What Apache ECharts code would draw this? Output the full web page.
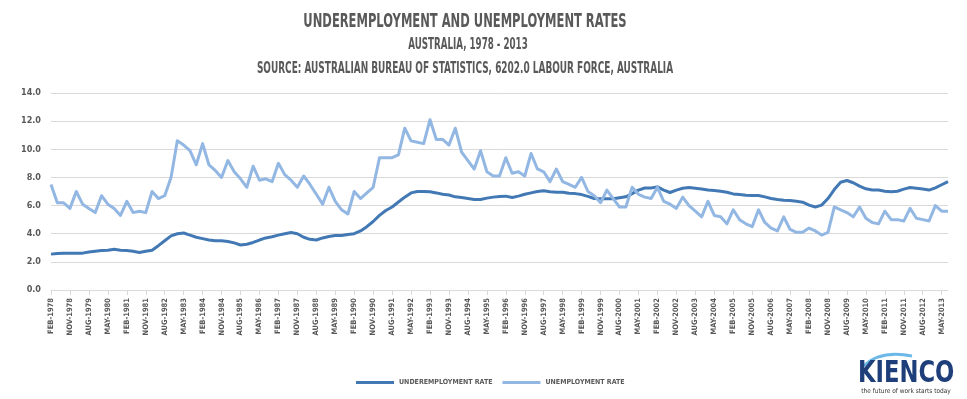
<!DOCTYPE html>
<html>
<head>
<meta charset="utf-8">
<script src="https://cdn.jsdelivr.net/npm/echarts@6/dist/echarts.min.js"></script>
<style>html,body{margin:0;padding:0;background:#fff}#c{width:967px;height:399px}</style>
</head>
<body>
<div id="c"></div>
<script>
var startYear = 1978;
var quarterMonths = ['FEB', 'MAY', 'AUG', 'NOV'];
var pointCount = 143;
var categories = [];
for (var k = 0; k < pointCount; k++) {
  categories.push(quarterMonths[k % 4] + '-' + (startYear + Math.floor(k / 4)));
}

var underemploymentRate = [
  2.55, 2.6, 2.62, 2.62, 2.62, 2.62, 2.7, 2.75, 2.8, 2.83,
  2.9, 2.83, 2.8, 2.75, 2.67, 2.75, 2.83, 3.15, 3.5, 3.85,
  4.0, 4.05, 3.9, 3.75, 3.65, 3.55, 3.5, 3.5, 3.45, 3.35,
  3.2, 3.25, 3.38, 3.55, 3.7, 3.78, 3.9, 4.0, 4.08, 4.0,
  3.75, 3.6, 3.55, 3.7, 3.8, 3.87, 3.87, 3.95, 4.0, 4.2,
  4.5, 4.87, 5.3, 5.65, 5.9, 6.25, 6.6, 6.9, 7.0, 7.0,
  6.98, 6.9, 6.8, 6.75, 6.62, 6.57, 6.5, 6.43, 6.43, 6.53,
  6.6, 6.65, 6.67, 6.57, 6.67, 6.8, 6.9, 7.0, 7.05, 6.98,
  6.95, 6.95, 6.88, 6.85, 6.78, 6.65, 6.5, 6.48, 6.48, 6.48,
  6.55, 6.62, 6.85, 7.1, 7.25, 7.25, 7.33, 7.1, 6.93, 7.1,
  7.23, 7.28, 7.23, 7.17, 7.1, 7.07, 7.02, 6.95, 6.83, 6.78,
  6.74, 6.72, 6.72, 6.62, 6.5, 6.43, 6.38, 6.36, 6.3, 6.24,
  6.03, 5.9, 6.03, 6.5, 7.14, 7.66, 7.78, 7.62, 7.38, 7.19,
  7.1, 7.1, 7.02, 6.98, 7.02, 7.17, 7.28, 7.23, 7.17, 7.1,
  7.26, 7.48, 7.7
];

var unemploymentRate = [
  7.5, 6.2, 6.2, 5.8, 7.0, 6.1, 5.8, 5.5, 6.7, 6.1,
  5.8, 5.3, 6.3, 5.5, 5.6, 5.5, 7.0, 6.5, 6.7, 8.0,
  10.6, 10.3, 9.9, 8.9, 10.4, 8.9, 8.5, 8.0, 9.2, 8.4,
  7.9, 7.3, 8.8, 7.8, 7.9, 7.7, 9.0, 8.2, 7.8, 7.3,
  8.1, 7.5, 6.8, 6.1, 7.3, 6.3, 5.7, 5.4, 7.0, 6.5,
  6.9, 7.3, 9.4, 9.4, 9.4, 9.6, 11.5, 10.6, 10.5, 10.4,
  12.1, 10.7, 10.7, 10.3, 11.5, 9.8, 9.2, 8.6, 9.9, 8.4,
  8.1, 8.1, 9.4, 8.3, 8.4, 8.1, 9.7, 8.6, 8.4, 7.7,
  8.6, 7.7, 7.5, 7.3, 8.0, 7.0, 6.7, 6.2, 7.1, 6.5,
  5.9, 5.9, 7.3, 6.8, 6.6, 6.5, 7.3, 6.3, 6.1, 5.8,
  6.6, 6.0, 5.6, 5.2, 6.3, 5.3, 5.2, 4.7, 5.7, 5.0,
  4.7, 4.5, 5.7, 4.8, 4.4, 4.2, 5.2, 4.3, 4.1, 4.1,
  4.4, 4.2, 3.9, 4.1, 5.9, 5.7, 5.5, 5.2, 5.9, 5.1,
  4.8, 4.7, 5.6, 5.0, 5.0, 4.9, 5.8, 5.1, 5.0, 4.9,
  6.0, 5.6, 5.6
];

var seriesNames = ['UNDEREMPLOYMENT RATE', 'UNEMPLOYMENT RATE'];
var titleText = 'UNDEREMPLOYMENT AND UNEMPLOYMENT RATES';
var subtitleText = 'AUSTRALIA, 1978 - 2013';
var sourceText = 'SOURCE: AUSTRALIAN BUREAU OF STATISTICS, 6202.0 LABOUR FORCE, AUSTRALIA';

var NARROW = "'DejaVu Sans Condensed', 'Liberation Sans Narrow', sans-serif";
var TXT = '#595959';

var chart = echarts.init(document.getElementById('c'), null, {renderer: 'canvas'});
chart.setOption({
  animation: false,
  backgroundColor: '#ffffff',
  grid: {left: 51, right: 19, top: 93, bottom: 109, containLabel: false},
  legend: {
    data: seriesNames,
    left: 351,
    top: 374,
    icon: 'rect',
    itemWidth: 38,
    itemHeight: 3,
    itemGap: 10,
    textStyle: {fontFamily: NARROW, fontWeight: 'bold', fontSize: 7, color: TXT}
  },
  xAxis: {
    type: 'category',
    data: categories,
    boundaryGap: false,
    axisLine: {show: true, lineStyle: {color: '#d9d9d9', width: 1}},
    axisTick: {show: true, interval: 2, length: 5, lineStyle: {color: '#d9d9d9'}},
    axisLabel: {
      interval: 2, rotate: 90, margin: 8,
      fontFamily: NARROW, fontWeight: 'bold', fontSize: 7.5, color: TXT
    },
    splitLine: {show: false}
  },
  yAxis: {
    type: 'value',
    min: 0, max: 14, interval: 2,
    axisLine: {show: false},
    axisTick: {show: false},
    axisLabel: {
      margin: 10, fontFamily: NARROW, fontWeight: 'bold', fontSize: 9, color: TXT,
      formatter: function (v) { return v.toFixed(1); }
    },
    splitLine: {lineStyle: {color: '#d9d9d9', width: 1}}
  },
  series: [
    {
      name: seriesNames[0], type: 'line', data: underemploymentRate,
      showSymbol: false, symbol: 'none', smooth: false,
      color: '#4279B5',
      lineStyle: {width: 3, color: '#4279B5', join: 'round'}
    },
    {
      name: seriesNames[1], type: 'line', data: unemploymentRate,
      showSymbol: false, symbol: 'none', smooth: false,
      color: '#93B7E3',
      lineStyle: {width: 3, color: '#93B7E3', join: 'round'}
    }
  ],
  graphic: [
    {type: 'text', x: 465, y: 21.5, scaleX: 0.656, style: {text: titleText, fill: TXT,
      font: 'bold 19.5px ' + NARROW, textAlign: 'center', textVerticalAlign: 'middle'}},
    {type: 'text', x: 468, y: 45, scaleX: 0.646, style: {text: subtitleText, fill: TXT,
      font: 'bold 15px ' + NARROW, textAlign: 'center', textVerticalAlign: 'middle'}},
    {type: 'text', x: 465, y: 69.5, scaleX: 0.663, style: {text: sourceText, fill: TXT,
      font: 'bold 15px ' + NARROW, textAlign: 'center', textVerticalAlign: 'middle'}},
    {type: 'bezierCurve', shape: {x1: 864, y1: 366, x2: 912, y2: 356, cpx1: 880, cpy1: 350},
      style: {stroke: '#6cb8e8', lineWidth: 3, fill: null}},
    {type: 'text', x: 858, y: 374, scaleX: 0.84, style: {text: 'KIENCO', fill: '#1f3f7a',
      font: 'bold 30px ' + NARROW, textAlign: 'left', textVerticalAlign: 'middle'}},
    {type: 'text', x: 906, y: 391, style: {text: 'the future of work starts today', fill: '#333333',
      font: '6.5px ' + NARROW, textAlign: 'center', textVerticalAlign: 'middle'}}
  ]
});
</script>
</body>
</html>
